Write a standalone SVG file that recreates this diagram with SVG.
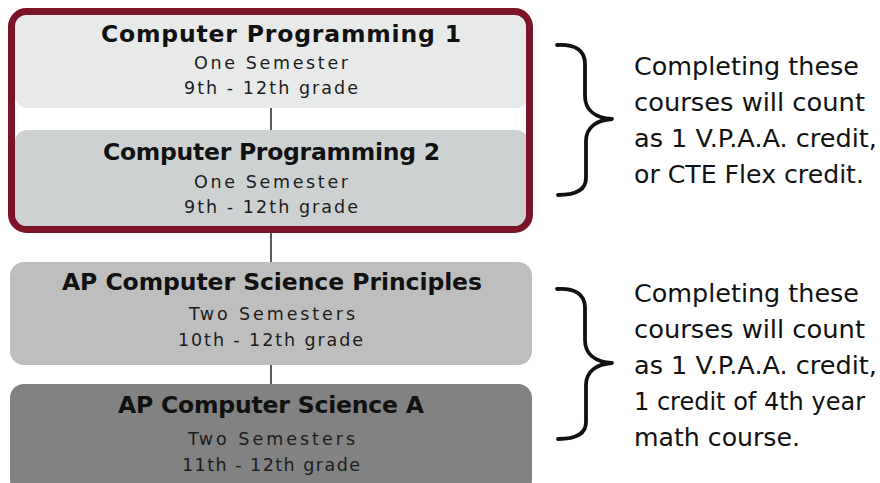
<svg xmlns="http://www.w3.org/2000/svg" width="880" height="483" viewBox="0 0 880 483">
<style>
.t{font-family:"DejaVu Sans","Liberation Sans",sans-serif;font-weight:bold;font-size:23.5px;fill:#111}
.s{font-family:"DejaVu Sans","Liberation Sans",sans-serif;font-size:17.5px;fill:#1c1c1c}
.n{font-family:"DejaVu Sans","Liberation Sans",sans-serif;font-size:24.5px;fill:#111}
.c{stroke:#4a4a4a;stroke-width:1.8;fill:none}
.b{stroke:#111;stroke-width:3.8;fill:none;stroke-linecap:round;stroke-linejoin:round}
</style>
<rect width="880" height="483" fill="#fff"/>
<g id="connectors">
<line class="c" x1="271" y1="108" x2="271" y2="130"/>
<line class="c" x1="271" y1="233" x2="271" y2="262"/>
<line class="c" x1="271" y1="365" x2="271" y2="384"/>
</g>
<g id="node-cp1">
<rect x="15" y="15" width="513" height="93" rx="12" fill="#e8eaea"/>
<text class="t" x="101" y="42" textLength="360" lengthAdjust="spacing">Computer Programming 1</text>
<text class="s" x="194" y="69" textLength="154" lengthAdjust="spacing">One Semester</text>
<text class="s" x="184" y="94" textLength="174" lengthAdjust="spacing">9th - 12th grade</text>
</g>
<g id="node-cp2">
<rect x="15" y="130" width="513" height="97" rx="12" fill="#ced1d2"/>
<text class="t" x="103" y="160" textLength="337" lengthAdjust="spacing">Computer Programming 2</text>
<text class="s" x="194" y="188" textLength="154" lengthAdjust="spacing">One Semester</text>
<text class="s" x="184" y="213" textLength="174" lengthAdjust="spacing">9th - 12th grade</text>
</g>
<g id="group-frame">
<rect x="11.5" y="11.5" width="518" height="218" rx="15" fill="none" stroke="#7c1428" stroke-width="7"/>
</g>
<g id="node-apcsp">
<rect x="10" y="262" width="522" height="103" rx="14" fill="#bdbebd"/>
<text class="t" x="62" y="290" textLength="420" lengthAdjust="spacing">AP Computer Science Principles</text>
<text class="s" x="189" y="320" textLength="166" lengthAdjust="spacing">Two Semesters</text>
<text class="s" x="178" y="346" textLength="185" lengthAdjust="spacing">10th - 12th grade</text>
</g>
<g id="node-apcsa">
<rect x="10" y="384" width="522" height="110" rx="14" fill="#818281"/>
<text class="t" x="118" y="413" textLength="306" lengthAdjust="spacing">AP Computer Science A</text>
<text class="s" x="188" y="445" textLength="167" lengthAdjust="spacing">Two Semesters</text>
<text class="s" x="182" y="471" textLength="178" lengthAdjust="spacing">11th - 12th grade</text>
</g>
<g id="note-1">
<path class="b" d="M557,45 C575,44 585,50 585,64 L585,96 C585,110 595,118 612,119 C597,120 586,127 586,141 L586,178 C586,190 575,195 558,195"/>
<text class="n" x="634" y="75" textLength="225" lengthAdjust="spacingAndGlyphs">Completing these</text>
<text class="n" x="634" y="111" textLength="231" lengthAdjust="spacingAndGlyphs">courses will count</text>
<text class="n" x="634" y="147" textLength="243" lengthAdjust="spacingAndGlyphs">as 1 V.P.A.A. credit,</text>
<text class="n" x="634" y="183" textLength="230" lengthAdjust="spacingAndGlyphs">or CTE Flex credit.</text>
</g>
<g id="note-2">
<path class="b" d="M557,289 C575,288 585,294 585,308 L585,340 C585,354 595,362 612,363 C597,364 586,371 586,385 L586,422 C586,434 575,439 558,439"/>
<text class="n" x="634" y="302" textLength="225" lengthAdjust="spacingAndGlyphs">Completing these</text>
<text class="n" x="634" y="338" textLength="231" lengthAdjust="spacingAndGlyphs">courses will count</text>
<text class="n" x="634" y="374" textLength="243" lengthAdjust="spacingAndGlyphs">as 1 V.P.A.A. credit,</text>
<text class="n" x="634" y="410" textLength="231" lengthAdjust="spacingAndGlyphs">1 credit of 4th year</text>
<text class="n" x="634" y="446" textLength="166" lengthAdjust="spacingAndGlyphs">math course.</text>
</g>
</svg>
